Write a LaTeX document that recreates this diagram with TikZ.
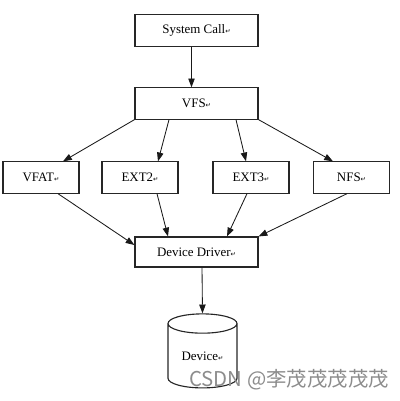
\documentclass[tikz,border=0pt]{standalone}
\usepackage{fontspec}
\setmainfont{Liberation Serif}
\newfontfamily\dejavu{DejaVu Sans}
\newfontfamily\cjk{Noto Sans CJK SC}
\usetikzlibrary{arrows.meta,calc,shapes.geometric}
\newcommand{\pmark}{{\dejavu\fontsize{4.5}{5}\selectfont ↵}}
\begin{document}
\begin{tikzpicture}[x=0.025cm,y=-0.025cm,
  font=\fontsize{9.2}{11}\selectfont,
  box/.style={draw=black!85,line width=0.8pt,inner sep=0pt,minimum height=0.78cm},
  wide/.style={box,minimum width=3.075cm},
  small/.style={box,minimum width=1.9cm},
  arr/.style={draw=black!90,line width=0.6pt,-{Triangle[length=2.2mm,width=1.6mm]}}]
\useasboundingbox (0,0) rectangle (400,401);

\node[wide,minimum height=0.82cm] (syscall) at (196.5,30.5) {System Call\pmark};
\node[wide] (vfs) at (196.5,103.5) {VFS\pmark};
\node[small] (vfat) at (41,177.5) {VFAT\pmark};
\node[small] (ext2) at (140,177.5) {EXT2\pmark};
\node[small] (ext3) at (251,177.5) {EXT3\pmark};
\node[small] (nfs) at (351.5,177.5) {NFS\pmark};
\node[wide,minimum height=0.75cm] (driver) at (196.5,252) {Device Driver\pmark};
\node[cylinder,shape border rotate=90,aspect=0.46,draw=black!85,line width=0.8pt,
  minimum width=1.725cm,minimum height=1.85cm,inner sep=0pt] (device) at (202.5,356) {Device\pmark};

\draw[arr] ($(syscall.south)+(-5,0)$) -- ($(vfs.north)+(-5,0)$);

\draw[arr] (vfs.south west) -- ($(vfat.north)+(22,0)$);
\draw[arr] ($(vfs.south)+(-27.5,0)$) -- ($(ext2.north)+(18,0)$);
\draw[arr] ($(vfs.south)+(39.5,0)$) -- ($(ext3.north)+(-5,0)$);
\draw[arr] (vfs.south east) -- ($(nfs.north)+(-18.5,0)$);

\draw[arr] ($(vfat.south)+(17,0)$) -- ($(driver.west)+(0,-7)$);
\draw[arr] ($(ext2.south)+(17,0)$) -- ($(driver.north)+(-28.5,0)$);
\draw[arr] ($(ext3.south)+(-4,0)$) -- ($(driver.north)+(30.5,0)$);
\draw[arr] ($(nfs.south)+(-4.5,0)$) -- (driver.north east);

\draw[arr] ($(driver.south)+(5.5,0)$) -- (device.north);

% watermark
\node[text=black!45,font=\cjk\fontsize{14.5}{15}\selectfont] (mark) at (289,380) {CSDN @李茂茂茂茂茂};
\end{tikzpicture}
\end{document}
